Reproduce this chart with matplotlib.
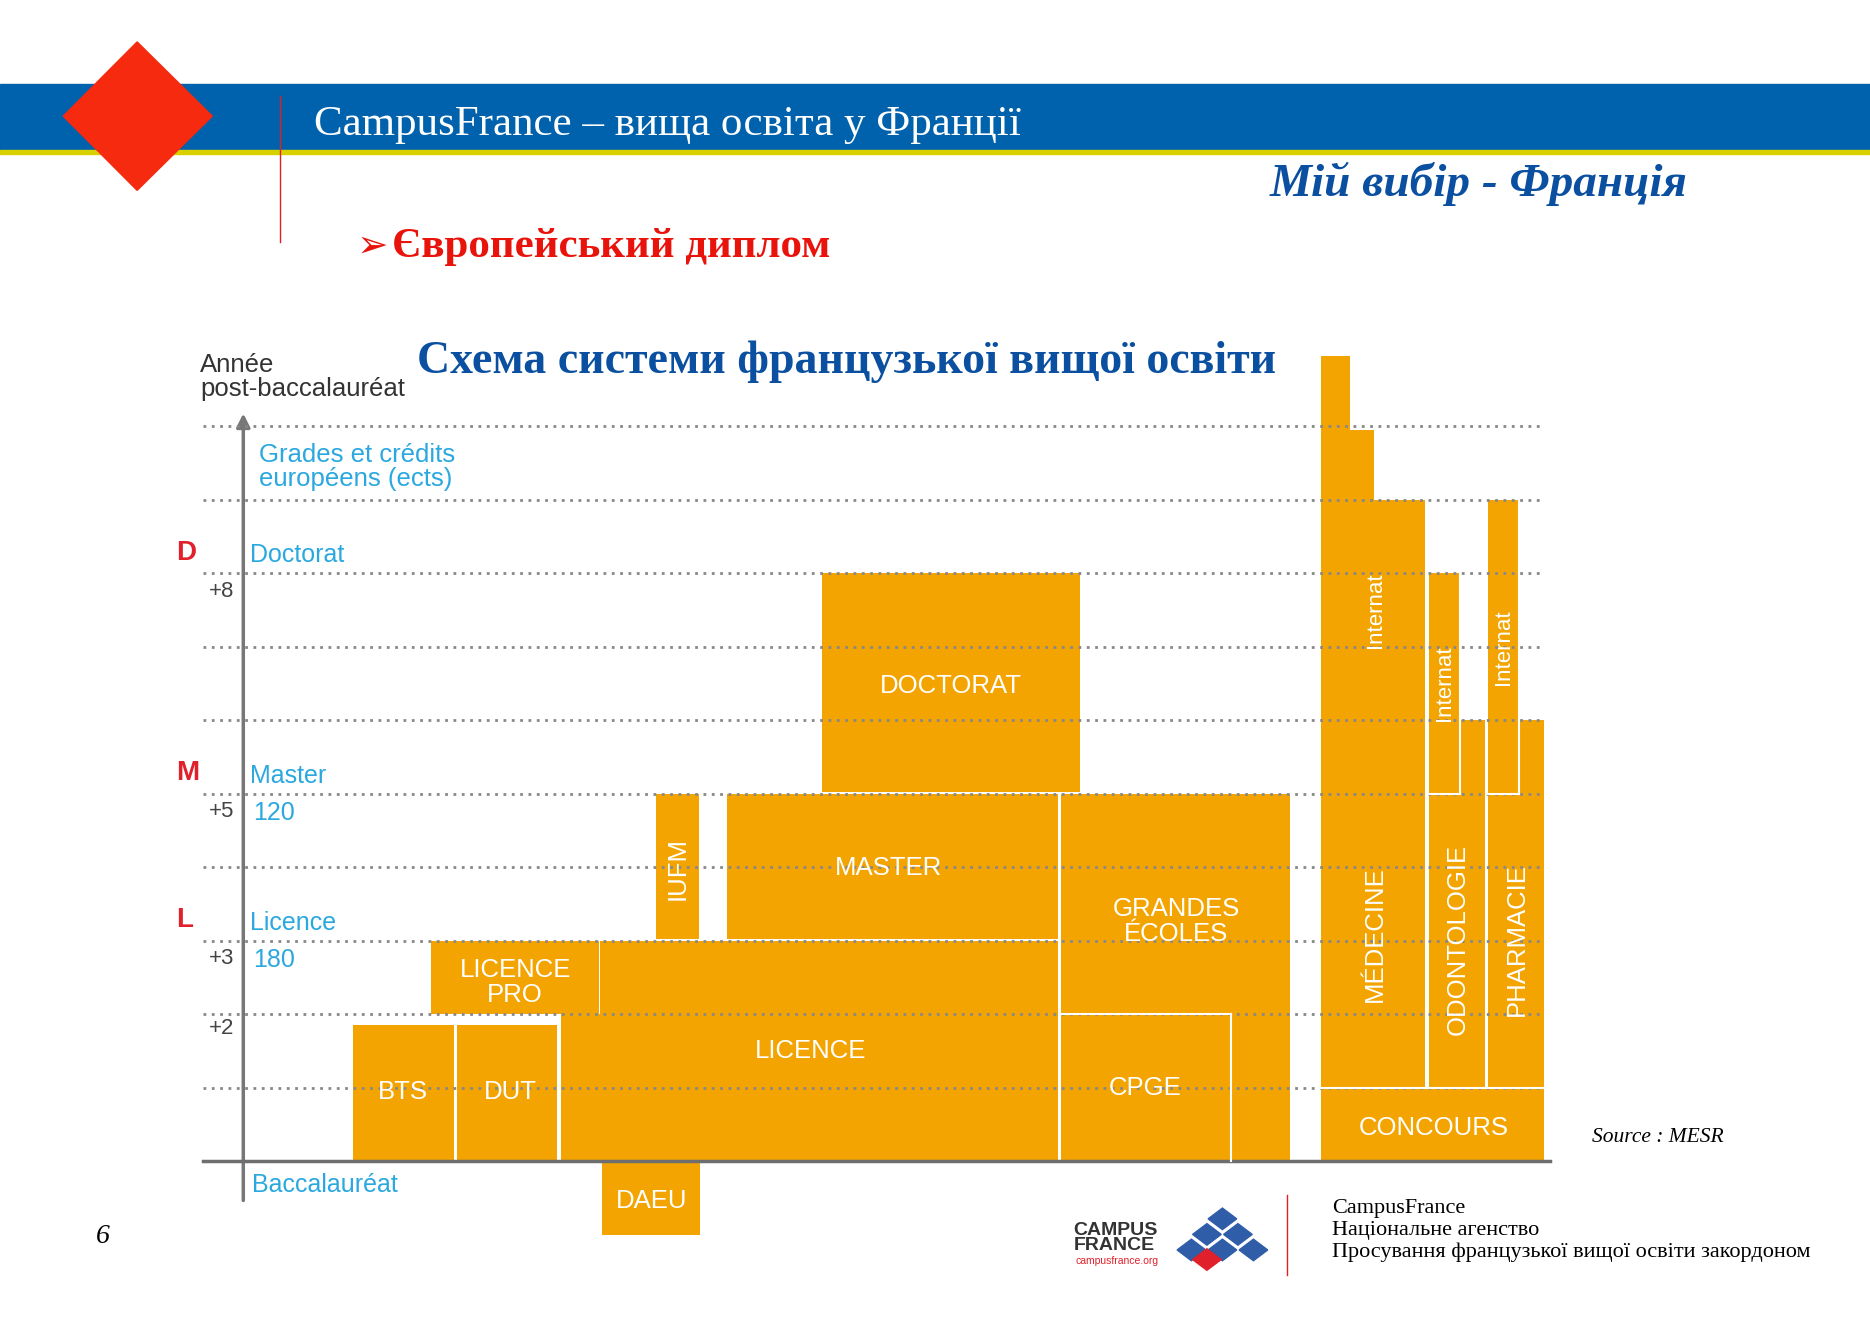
import matplotlib
matplotlib.use("Agg")
import matplotlib.pyplot as plt
from matplotlib.patches import Polygon, Rectangle, FancyArrowPatch

# ---- data (years after baccalauréat) ----
programs = ["BTS", "DUT", "LICENCE PRO", "LICENCE", "IUFM", "MASTER", "DOCTORAT",
            "GRANDES\nÉCOLES", "CPGE", "DAEU", "MÉDECINE", "ODONTOLOGIE", "PHARMACIE", "CONCOURS"]
year_start = [0, 0, 2, 0, 3, 3, 5, 0, 0, -1, 1, 1, 1, 0]
year_end = [1.85, 1.85, 3, 3, 5, 5, 8, 5, 2, 0, 9, 6, 6, 1]
internat_start = [6, 5, 5]
internat_end = [9, 8, 9]
level_letters = ["D", "M", "L"]
level_names = ["Doctorat", "Master", "Licence"]
level_years = [8, 5, 3]
ects = ["", "120", "180"]
year_ticks = ["+8", "+5", "+3", "+2"]
year_tick_vals = [8, 5, 3, 2]

ORANGE = "#F3A400"
BLUE = "#0062AC"
CYAN = "#2AA8DF"
SANS = "Liberation Sans"
SERIF = "Liberation Serif"

fig = plt.figure(figsize=(18.7, 13.23), dpi=100)
ax = fig.add_axes([0, 0, 1, 1])
ax.set_xlim(0, 1568); ax.set_ylim(1105, 0); ax.axis("off")

Y0, DY = 970, 61.4
def Y(v): return Y0 - DY * v

# header
ax.add_patch(Rectangle((0, 70), 1568, 55, color=BLUE))
ax.add_patch(Rectangle((0, 125), 1568, 4, color="#D8D000"))
ax.add_patch(Polygon([(115, 35), (178, 97), (115, 159), (53, 97)], color="#F52A0F"))
ax.plot([235, 235], [80, 202], color="#E02020", lw=1)
ax.text(263, 104, "CampusFrance – вища освіта у Франції", color="white", fontsize=31,
        family=SERIF, va="center")
ax.text(1415, 154, "Мій вибір - Франція", color="#0A4FA0", fontsize=34, family=SERIF,
        style="italic", weight="bold", ha="right", va="center")
ax.text(299, 206, "➢", color="#E8140C", fontsize=27, family="DejaVu Sans", va="center")
ax.text(329, 206, "Європейський диплом", color="#E8140C", fontsize=31, family=SERIF,
        weight="bold", va="center")
ax.text(350, 302, "Схема системи французької вищої освіти", color="#0A4FA0", fontsize=33,
        family=SERIF, weight="bold", va="center")

# grid
for v in range(1, 11):
    ax.plot([170, 1295], [Y(v), Y(v)], color="#888888", lw=2, ls=(0, (1, 2)))
ax.plot([170, 1300], [Y0, Y0], color="#6E6E6E", lw=2.5)
ax.add_patch(FancyArrowPatch((204, 1005), (204, 343), arrowstyle="-|>", mutation_scale=20,
                             color="#777777", lw=2.5))

# axis labels
ax.text(168, 315, "Année\npost-baccalauréat", fontsize=18.5, color="#333333", va="center",
        family=SANS, linespacing=1.0)
ax.text(217, 390, "Grades et crédits\neuropéens (ects)", fontsize=18.5, color=CYAN, va="center",
        family=SANS, linespacing=1.0)
for L, n, yv, e in zip(level_letters, level_names, level_years, ects):
    ax.text(148, Y(yv) - 17, L, color="#E0202A", fontsize=20, weight="bold", va="center", family=SANS)
    ax.text(210, Y(yv) - 15, n, color=CYAN, fontsize=18, va="center", family=SANS)
    if e:
        ax.text(212, Y(yv) + 16, e, color=CYAN, fontsize=18, va="center", family=SANS)
for t, v in zip(year_ticks, year_tick_vals):
    ax.text(186, Y(v) + 15 if v != 2 else Y(v) + 12, t, fontsize=16, color="#444444",
            ha="center", va="center", family=SANS)
ax.text(211, 990, "Baccalauréat", color=CYAN, fontsize=18, va="center", family=SANS)

def block(x0, x1, a, b):
    ax.add_patch(Rectangle((x0, Y(b)), x1 - x0, Y(a) - Y(b), color=ORANGE, lw=0))

def label(x, y, s, rot=0, fs=18.5):
    ax.text(x, y, s, color="white", fontsize=fs, ha="center", va="center", rotation=rot,
            linespacing=1.05, family=SANS)

d = dict(zip(programs, zip(year_start, year_end)))
a, b = d["LICENCE"]
ax.add_patch(Polygon([(470, Y(a)), (887, Y(a)), (887, Y(b)), (503, Y(b)), (503, Y(2)), (470, Y(2))],
                     color=ORANGE, lw=0))
label(680, 878, "LICENCE")
block(296, 381, *d["BTS"]); label(338, 912, "BTS")
block(383, 467, *d["DUT"]); label(428, 912, "DUT")
block(361, 502, *d["LICENCE PRO"]); label(432, 821, "LICENCE\nPRO")
block(505, 587, *d["DAEU"]); label(546, 1003, "DAEU")
block(550, 586, d["IUFM"][0] + 0.03, d["IUFM"][1]); label(568, 725, "IUFM", 90)
block(610, 887, d["MASTER"][0] + 0.03, d["MASTER"][1]); label(745, 725, "MASTER")
block(689, 906, d["DOCTORAT"][0] + 0.03, d["DOCTORAT"][1]); label(797, 573, "DOCTORAT")
block(890, 1082, *d["GRANDES\nÉCOLES"]); label(986, 770, "GRANDES\nÉCOLES")
block(890, 1031, *d["CPGE"]); label(960, 909, "CPGE")
ax.plot([1032, 1032], [Y(2), Y0], color="white", lw=1.5)
ax.plot([890, 1032], [Y(2), Y(2)], color="white", lw=1.5)

# health
block(1108, 1295, *d["CONCOURS"]); label(1202, 942, "CONCOURS")
block(1108, 1195, *d["MÉDECINE"]); label(1153, 780, "MÉDECINE", 90)
block(1108, 1152, 9, 9.95); block(1108, 1132, 9.9, 10.95)
block(1198, 1245, *d["ODONTOLOGIE"]); label(1222, 785, "ODONTOLOGIE", 90)
block(1248, 1295, *d["PHARMACIE"]); label(1272, 785, "PHARMACIE", 90)
for xs, x0, x1, a, b in [(1153, 1108, 1195, internat_start[0], internat_end[0]),
                         (1211, 1198, 1223, internat_start[1], internat_end[1]),
                         (1261, 1248, 1273, internat_start[2], internat_end[2])]:
    block(x0, x1, a, b)
    label(xs, Y((a + b) / 2), "Internat", 90, 16)
ax.plot([1108, 1295], [Y(1), Y(1)], color="white", lw=1.5)
ax.plot([1224, 1224], [Y(5), Y(8)], color="white", lw=1.5)
ax.plot([1274, 1274], [Y(5), Y(9)], color="white", lw=1.5)
ax.plot([1198, 1224], [Y(5), Y(5)], color="white", lw=1.5)
ax.plot([1248, 1274], [Y(5), Y(5)], color="white", lw=1.5)

ax.text(1335, 950, "Source : MESR", fontsize=15.5, style="italic", family=SERIF, va="center")
ax.text(80, 1033, "6", fontsize=20, style="italic", family=SERIF, va="center")

# logo
ax.text(900, 1034, "CAMPUS\nFRANCE", fontsize=14, weight="bold", color="#333333",
        va="center", linespacing=0.85, family=SANS)
ax.text(902, 1053, "campusfrance.org", fontsize=7.5, color="#E0202A", va="center", family=SANS)
r = 9
cells = [(1025, 1018, "#2F5DA8"), (1012, 1031, "#2F5DA8"), (1038, 1031, "#2F5DA8"),
         (999, 1044, "#2F5DA8"), (1025, 1044, "#2F5DA8"), (1051, 1044, "#2F5DA8"),
         (1012, 1052, "#E0202A")]
for cx, cy, c in cells:
    ax.add_patch(Polygon([(cx, cy - r), (cx + r + 3, cy), (cx, cy + r), (cx - r - 3, cy)], color=c))
ax.plot([1079, 1079], [998, 1065], color="#E02020", lw=1)
ax.text(1117, 1028, "CampusFrance\nНаціональне агенство\nПросування французької вищої освіти закордоном",
        fontsize=16, family=SERIF, va="center", linespacing=1.2)

fig.savefig("out.png", dpi=100)
